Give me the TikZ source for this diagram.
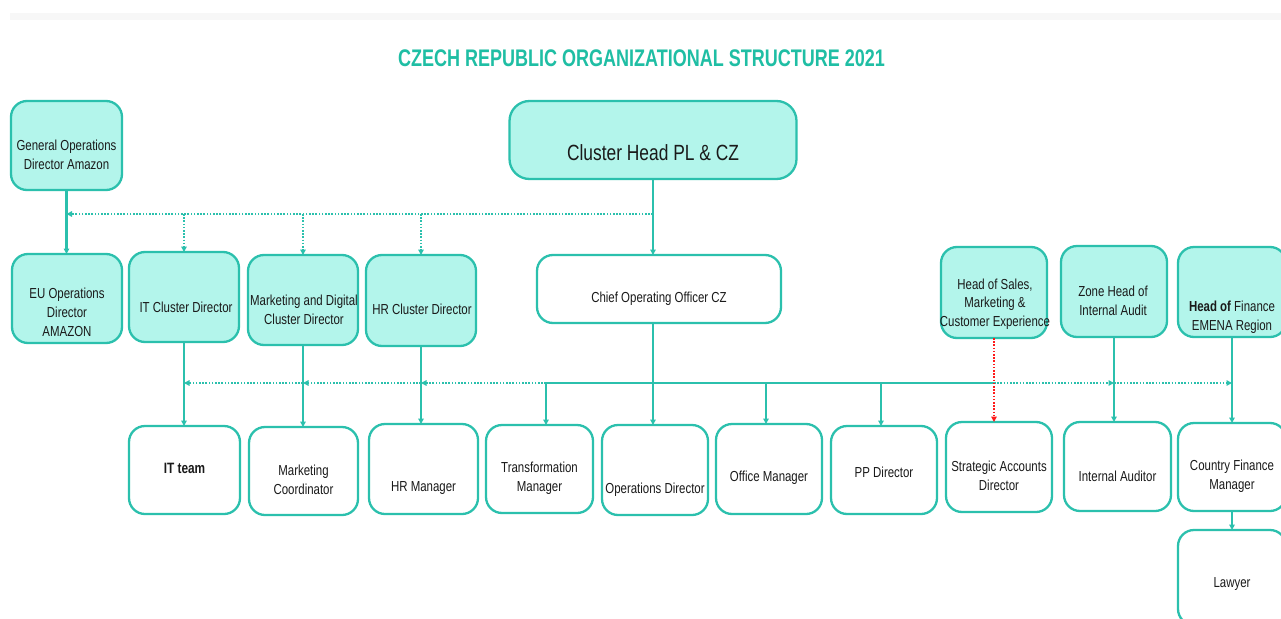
\documentclass[tikz,border=0pt]{standalone}
\usepackage{fontspec}
\setmainfont{Liberation Sans}[FakeStretch=0.79]
\newfontfamily\titlefont{Liberation Sans}[FakeStretch=0.75]
\usetikzlibrary{arrows.meta}
\definecolor{tealline}{HTML}{2BC0AD}
\definecolor{tealfill}{HTML}{B3F5EB}
\definecolor{titlecol}{HTML}{1FBEA4}
\definecolor{txt}{HTML}{1A1A1A}
\definecolor{band}{HTML}{F7F7F7}
\definecolor{reddot}{HTML}{FF1A1A}
\begin{document}
\begin{tikzpicture}[x=1pt,y=-1pt,
  orgbox/.style={draw=tealline, line width=2.3pt, rounded corners=16pt, inner sep=0pt, outer sep=0pt},
  filled/.style={orgbox, fill=tealfill},
  plain/.style={orgbox, fill=white},
  lbl/.style={text=txt, font=\fontsize{14.5}{19}\selectfont, align=center, inner sep=0pt},
  conn/.style={draw=tealline, line width=2.1pt},
  tip/.style={-{Triangle[length=5.5pt,width=5.5pt]}},
  dotl/.style={draw=tealline, line width=2pt, dash pattern=on 1.6pt off 1.6pt},
  redl/.style={draw=reddot, line width=2pt, dash pattern=on 1.6pt off 1.6pt}
]
\clip (0,0) rectangle (1281,618);
\fill[white] (0,0) rectangle (1281,618);
\fill[band] (10,13) rectangle (1281,20);

\node[text=titlecol, font=\titlefont\bfseries\fontsize{24}{28}\selectfont, inner sep=0pt] (title) at (641.5,58) {CZECH REPUBLIC ORGANIZATIONAL STRUCTURE 2021};

\coordinate (tbus) at (0,214);
\coordinate (bus) at (0,383);

% top row
\node[filled, minimum width=111pt, minimum height=89pt] (genops) at (66.5,145.5) {};
\node[filled, minimum width=287pt, minimum height=78pt, rounded corners=20pt] (clh) at (653,140) {};
\node[plain, minimum width=244pt, minimum height=68pt] (coo) at (659,289) {};

% second row
\node[filled, minimum width=110pt, minimum height=89pt] (euops) at (67,298.5) {};
\node[filled, minimum width=110pt, minimum height=90pt] (itc) at (184,297) {};
\node[filled, minimum width=110pt, minimum height=90pt] (mdc) at (303,300) {};
\node[filled, minimum width=110pt, minimum height=91pt] (hrc) at (421,300.5) {};
\node[filled, minimum width=106pt, minimum height=91pt] (hos) at (994,292.5) {};
\node[filled, minimum width=106pt, minimum height=91pt] (zone) at (1114,291.5) {};
\node[filled, minimum width=108pt, minimum height=90pt] (hof) at (1232,292) {};

% third row
\node[plain, minimum width=111pt, minimum height=88pt] (itt) at (184.5,470) {};
\node[plain, minimum width=109pt, minimum height=88pt] (mkc) at (303.5,471) {};
\node[plain, minimum width=109pt, minimum height=90pt] (hrm) at (423.5,469) {};
\node[plain, minimum width=107pt, minimum height=88pt] (trm) at (539.5,469) {};
\node[plain, minimum width=106pt, minimum height=90pt] (opd) at (655,470) {};
\node[plain, minimum width=106pt, minimum height=90pt] (ofm) at (769,469) {};
\node[plain, minimum width=106pt, minimum height=88pt] (ppd) at (884,470) {};
\node[plain, minimum width=106pt, minimum height=90pt] (sad) at (999,467) {};
\node[plain, minimum width=107pt, minimum height=89pt] (ia) at (1117.5,466.5) {};
\node[plain, minimum width=108pt, minimum height=88pt] (cfm) at (1232,467) {};
\node[plain, minimum width=108pt, minimum height=95pt] (law) at (1232,577.5) {};

% labels
\node[lbl] (genops-t) at (66.5,155) {General Operations\\Director Amazon};
\node[lbl, font=\fontsize{22}{26}\selectfont] (clh-t) at (653,153) {Cluster Head PL \& CZ};
\node[lbl] (coo-t) at (659,299) {Chief Operating Officer CZ};
\node[lbl] (euops-t) at (67,312) {EU Operations\\Director\\AMAZON};
\node[lbl] (itc-t) at (186,307) {IT Cluster Director};
\node[lbl] (mdc-t) at (304,310) {Marketing and Digital\\Cluster Director};
\node[lbl] (hrc-t) at (422,309) {HR Cluster Director};
\node[lbl, font=\fontsize{14.5}{18.5}\selectfont] (hos-t) at (995,304) {Head of Sales,\\Marketing \&\\Customer Experience};
\node[lbl] (zone-t) at (1113,301) {Zone Head of\\Internal Audit};
\node[lbl] (hof-t) at (1232,317) {{\bfseries Head of} Finance\\EMENA Region};
\node[lbl, font=\bfseries\fontsize{15}{19}\selectfont] (itt-t) at (184.5,468) {IT team};
\node[lbl] (mkc-t) at (303.5,480) {Marketing\\Coordinator};
\node[lbl] (hrm-t) at (423.5,488) {HR Manager};
\node[lbl] (trm-t) at (539.5,478) {Transformation\\Manager};
\node[lbl] (opd-t) at (655,490) {Operations Director};
\node[lbl] (ofm-t) at (769,478) {Office Manager};
\node[lbl] (ppd-t) at (884,472) {PP Director};
\node[lbl] (sad-t) at (999,476) {Strategic Accounts\\Director};
\node[lbl] (ia-t) at (1117.5,476) {Internal Auditor};
\node[lbl] (cfm-t) at (1232,476) {Country Finance\\Manager};
\node[lbl] (law-t) at (1232,584) {Lawyer};

% connectors: top
\draw[conn,tip] (genops.south) -- (genops.south |- euops.north);
\draw[dotl,tip] (clh.south |- tbus) -- (genops.south |- tbus);
\draw[dotl,tip] (itc.north |- tbus) -- (itc.north);
\draw[dotl,tip] (mdc.north |- tbus) -- (mdc.north);
\draw[dotl,tip] (hrc.north |- tbus) -- (hrc.north);
\draw[conn,tip] (clh.south) -- (clh.south |- coo.north);

% COO bus
\coordinate (trmtop) at ([xshift=6.5pt]trm.north);
\coordinate (ofmtop) at ([xshift=-3pt]ofm.north);
\coordinate (ppdtop) at ([xshift=-3pt]ppd.north);
\draw[conn,tip] ([xshift=-2pt]coo.south -| opd.north) -- ([xshift=-2pt]opd.north);
\draw[conn] (trmtop |- bus) -- (hos.south |- bus);
\draw[conn,tip] (trmtop |- bus) -- (trmtop);
\draw[conn,tip] (ofmtop |- bus) -- (ofmtop);
\draw[conn,tip] (ppdtop |- bus) -- (ppdtop);
\draw[dotl,tip] (trmtop |- bus) -- (hrc.south |- bus);
\draw[dotl,tip] (hrc.south |- bus) -- (mdc.south |- bus);
\draw[dotl,tip] (mdc.south |- bus) -- (itc.south |- bus);
\draw[dotl,tip] (hos.south |- bus) -- (zone.south |- bus);
\draw[dotl,tip] (zone.south |- bus) -- (hof.south |- bus);

% lower drops
\draw[conn,tip] (itc.south) -- (itc.south |- itt.north);
\draw[conn,tip] (mdc.south) -- (mdc.south |- mkc.north);
\draw[conn,tip] (hrc.south) -- (hrc.south |- hrm.north);
\draw[redl,tip] (hos.south) -- (hos.south |- sad.north);
\draw[conn,tip] (zone.south) -- (zone.south |- ia.north);
\draw[conn,tip] (hof.south) -- (hof.south |- cfm.north);
\draw[conn,tip] (cfm.south) -- (law.north);
\end{tikzpicture}
\end{document}
